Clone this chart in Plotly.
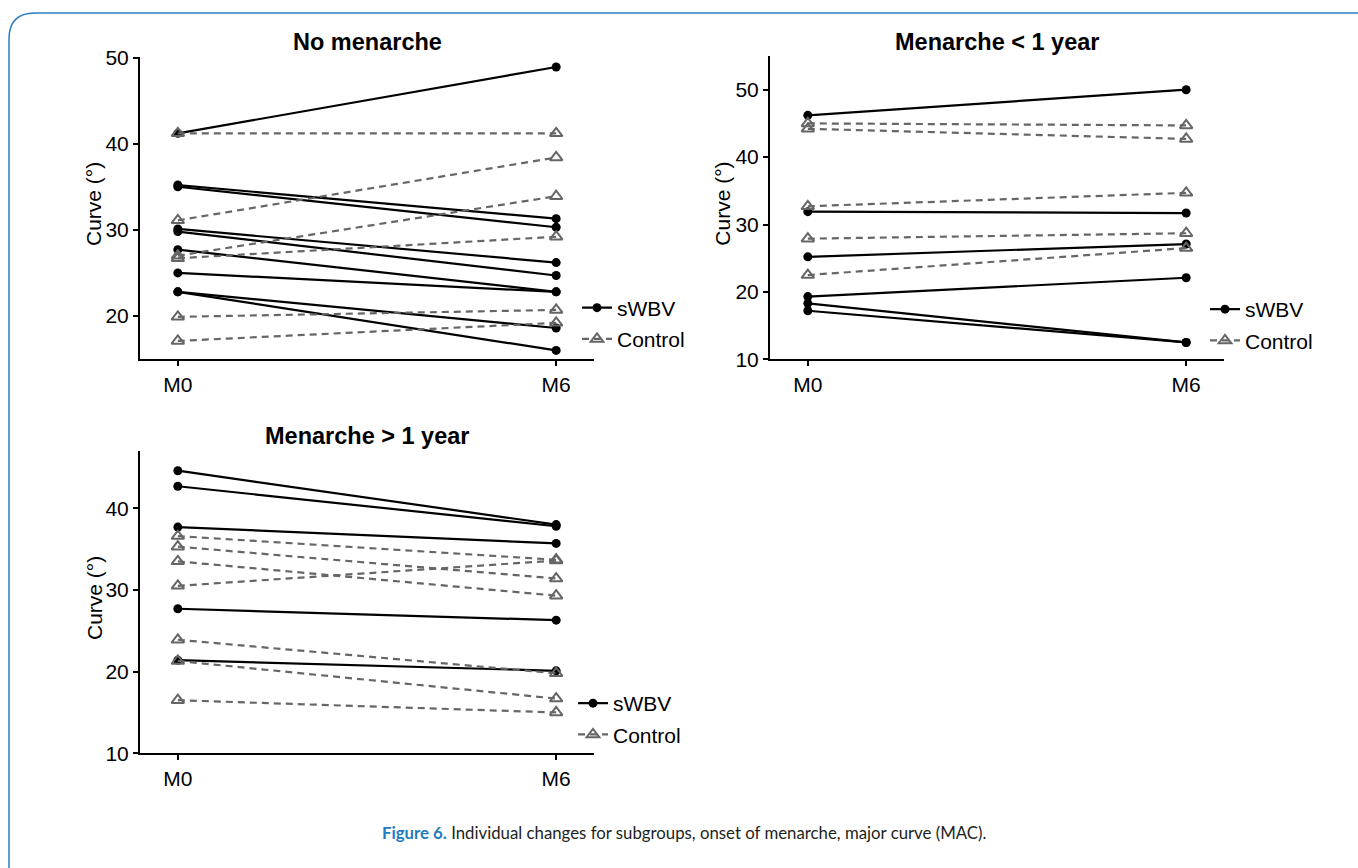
import plotly.graph_objects as go

# ---- data: curve (degrees) at baseline (M0) and 6 months (M6) ----
timepoints = ["M0", "M6"]

no_men_swbv_m0 = [41.2, 35.2, 35.0, 30.1, 29.8, 27.7, 25.0, 22.8, 22.8]
no_men_swbv_m6 = [48.9, 31.3, 30.3, 26.2, 24.7, 22.8, 22.8, 18.6, 16.0]
no_men_ctrl_m0 = [41.2, 31.1, 27.0, 26.7, 19.9, 17.1]
no_men_ctrl_m6 = [41.2, 38.4, 33.9, 29.2, 20.7, 19.2]

lt1_swbv_m0 = [46.2, 31.9, 25.2, 19.3, 18.3, 17.2]
lt1_swbv_m6 = [50.0, 31.7, 27.1, 22.1, 12.5, 12.5]
lt1_ctrl_m0 = [45.0, 44.2, 32.7, 27.9, 22.5]
lt1_ctrl_m6 = [44.7, 42.7, 34.7, 28.7, 26.5]

gt1_swbv_m0 = [44.6, 42.7, 37.7, 27.7, 21.4]
gt1_swbv_m6 = [38.0, 37.8, 35.7, 26.3, 20.1]
gt1_ctrl_m0 = [36.6, 35.3, 33.5, 30.5, 23.9, 21.3, 16.5]
gt1_ctrl_m6 = [33.7, 31.4, 29.3, 33.6, 19.8, 16.7, 15.0]

panel_titles = ["No menarche", "Menarche < 1 year", "Menarche > 1 year"]
y_ticks = [[20, 30, 40, 50], [10, 20, 30, 40, 50], [10, 20, 30, 40]]
y_ranges = [[14.97, 50.1], [10, 55.0], [10, 47.05]]
y_title = "Curve (°)"

W, H = 1358, 868
FONT = "Liberation Sans, Arial, sans-serif"
BLACK = "#000000"
GREY = "#666666"


def px_x(p):
    return p / W


def px_y(p):
    return 1 - p / H


def paired(m0, m6):
    xs, ys = [], []
    for a, b in zip(m0, m6):
        xs += [0, 1, None]
        ys += [a, b, None]
    return xs, ys


panels = [
    dict(swbv=(no_men_swbv_m0, no_men_swbv_m6), ctrl=(no_men_ctrl_m0, no_men_ctrl_m6),
         xdom=(140, 594), ydom=(359.3, 56.7), legend_xy=(577, 323.5),
         title_y=42, ytitle_x=94),
    dict(swbv=(lt1_swbv_m0, lt1_swbv_m6), ctrl=(lt1_ctrl_m0, lt1_ctrl_m6),
         xdom=(770, 1224), ydom=(359.3, 56.0), legend_xy=(1205, 325),
         title_y=42, ytitle_x=723),
    dict(swbv=(gt1_swbv_m0, gt1_swbv_m6), ctrl=(gt1_ctrl_m0, gt1_ctrl_m6),
         xdom=(140, 594), ydom=(753.3, 450.7), legend_xy=(573, 719),
         title_y=436, ytitle_x=94),
]

fig = go.Figure()
layout = dict(
    width=W, height=H, autosize=False,
    margin=dict(l=0, r=0, t=0, b=0, autoexpand=False),
    paper_bgcolor="white", plot_bgcolor="white",
    font=dict(family=FONT, color=BLACK, size=21),
    showlegend=True,
)
annotations = []

for i, p in enumerate(panels):
    n = i + 1
    suffix = "" if n == 1 else str(n)
    xname, yname = "x" + suffix, "y" + suffix
    legend_name = "legend" + suffix

    xs, ys = paired(*p["swbv"])
    fig.add_trace(go.Scatter(
        x=xs, y=ys, xaxis=xname, yaxis=yname, mode="lines+markers", name="sWBV",
        line=dict(color=BLACK, width=2.2),
        marker=dict(symbol="circle", size=9, color=BLACK),
        legend=legend_name, legendgroup="swbv" + suffix, connectgaps=False,
        hoverinfo="skip"))
    xs, ys = paired(*p["ctrl"])
    fig.add_trace(go.Scatter(
        x=xs, y=ys, xaxis=xname, yaxis=yname, mode="lines+markers", name="Control",
        line=dict(color=GREY, width=2.2, dash="7px,5px"),
        marker=dict(symbol="triangle-up-open", size=11, color=GREY,
                    line=dict(width=2, color=GREY)),
        legend=legend_name, legendgroup="ctrl" + suffix, connectgaps=False,
        hoverinfo="skip"))

    x0, x1 = p["xdom"]
    yb, yt = p["ydom"]
    layout["xaxis" + suffix] = dict(
        domain=[px_x(x0), px_x(x1)], range=[-0.1, 1.1], anchor=yname,
        tickvals=[0, 1], ticktext=timepoints, automargin=False,
        showline=True, linecolor=BLACK, linewidth=2,
        ticks="outside", ticklen=5, tickwidth=2, tickcolor=BLACK,
        showgrid=False, zeroline=False, fixedrange=True,
        tickfont=dict(size=21, color=BLACK, family=FONT))
    layout["yaxis" + suffix] = dict(
        domain=[px_y(yb), px_y(yt)], range=y_ranges[i], anchor=xname,
        tickvals=y_ticks[i], automargin=False,
        showline=True, linecolor=BLACK, linewidth=2,
        ticks="outside", ticklen=5, tickwidth=2, tickcolor=BLACK,
        showgrid=False, zeroline=False, fixedrange=True,
        tickfont=dict(size=21, color=BLACK, family=FONT))
    lx, ly = p["legend_xy"]
    layout[legend_name] = dict(
        x=px_x(lx), y=px_y(ly), xanchor="left", yanchor="middle",
        bgcolor="rgba(0,0,0,0)", borderwidth=0,
        font=dict(size=21, color=BLACK, family=FONT),
        traceorder="grouped", tracegroupgap=1, itemwidth=30)

    # panel title
    annotations.append(dict(
        text="<b>%s</b>" % panel_titles[i], xref="paper", yref="paper",
        x=px_x((x0 + x1) / 2), y=px_y(p["title_y"]),
        xanchor="center", yanchor="middle", showarrow=False,
        font=dict(size=23.5, color=BLACK, family=FONT)))
    # y-axis title
    annotations.append(dict(
        text=y_title, xref="paper", yref="paper", textangle=-90,
        x=px_x(p["ytitle_x"]), y=px_y((yb + yt) / 2 - 4),
        xanchor="center", yanchor="middle", showarrow=False,
        font=dict(size=21, color=BLACK, family=FONT)))

annotations.append(dict(
    text="<b><span style='color:#1f7bc1'>Figure 6.</span></b> "
         "Individual changes for subgroups, onset of menarche, major curve (MAC).",
    xref="paper", yref="paper", x=px_x(684), y=px_y(832),
    xanchor="center", yanchor="middle", showarrow=False,
    font=dict(size=16.8, color="#231f20", family="Lato, Open Sans, sans-serif")))

layout["annotations"] = annotations

# rounded frame around the figure panel
L, T, R, B, rad = 9, 13, 1385, 900, 26
path = (f"M {px_x(L)},{px_y(B)} L {px_x(L)},{px_y(T + rad)} "
        f"Q {px_x(L)},{px_y(T)} {px_x(L + rad)},{px_y(T)} "
        f"L {px_x(R)},{px_y(T)}")
layout["shapes"] = [dict(type="path", path=path, xref="paper", yref="paper",
                         line=dict(color="#2a7dc2", width=1.5))]

fig.update_layout(**layout)
fig.write_html("out.html")
